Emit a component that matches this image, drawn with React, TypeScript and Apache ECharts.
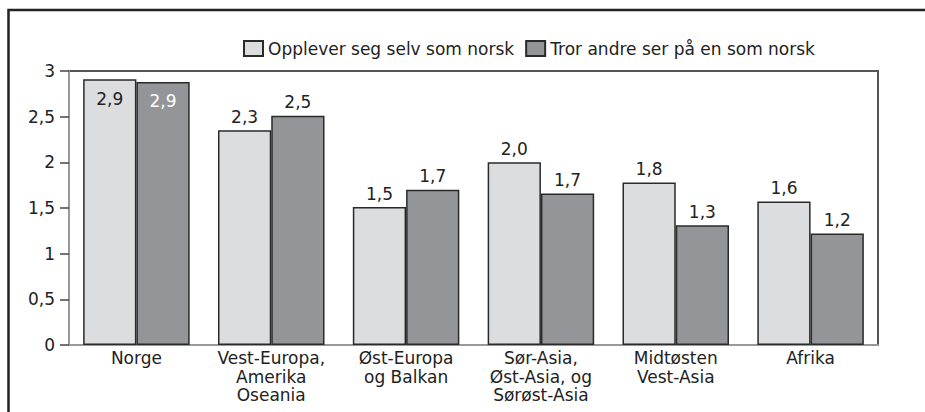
import React, { useEffect, useRef } from "react";
import * as echarts from "echarts";

const categories = [
  "Norge",
  "Vest-Europa,\nAmerika\nOseania",
  "Øst-Europa\nog Balkan",
  "Sør-Asia,\nØst-Asia, og\nSørøst-Asia",
  "Midtøsten\nVest-Asia",
  "Afrika",
];
const seriesNames = ["Opplever seg selv som norsk", "Tror andre ser på en som norsk"];
const selfValues = [2.91, 2.35, 1.51, 2.0, 1.78, 1.57];
const selfLabels = ["2,9", "2,3", "1,5", "2,0", "1,8", "1,6"];
const othersValues = [2.88, 2.51, 1.7, 1.66, 1.31, 1.22];
const othersLabels = ["2,9", "2,5", "1,7", "1,7", "1,3", "1,2"];
const yTicks = [0, 0.5, 1, 1.5, 2, 2.5, 3];

const FONT = "'DejaVu Sans', 'Noto Sans', sans-serif";

export default function App() {
  const ref = useRef<HTMLDivElement>(null);
  useEffect(() => {
    if (!ref.current) return;
    const chart = echarts.init(ref.current, null, { renderer: "svg" });
    const mk = (vals: number[], labels: string[], dark: boolean) =>
      vals.map((v, i) => ({
        value: v,
        label:
          i === 0
            ? {
                show: true,
                position: "insideTop",
                distance: 11,
                color: dark ? "#ffffff" : "#222222",
                formatter: () => labels[i],
              }
            : {
                show: true,
                position: "top",
                distance: 5,
                color: "#222222",
                formatter: () => labels[i],
              },
      }));
    chart.setOption({
      animation: false,
      textStyle: { fontFamily: FONT },
      legend: {
        left: 238,
        top: 35,
        icon: "rect",
        itemWidth: 19,
        itemHeight: 15,
        itemGap: 11,
        textStyle: { fontSize: 17, color: "#222", fontFamily: FONT },
        data: seriesNames,
      },
      grid: {
        left: 69,
        top: 71,
        right: 47,
        bottom: 67,
        show: true,
        borderColor: "#555",
        borderWidth: 2,
      },
      xAxis: {
        type: "category",
        data: categories,
        axisLine: { show: true, lineStyle: { color: "#999", width: 2 } },
        axisTick: { show: false },
        axisLabel: {
          interval: 0,
          fontSize: 17,
          color: "#222",
          lineHeight: 18.5,
          margin: 4,
          fontFamily: FONT,
        },
      },
      yAxis: {
        type: "value",
        min: 0,
        max: 3,
        interval: 0.5,
        splitLine: { show: false },
        axisLine: { show: true, lineStyle: { color: "#999", width: 2 } },
        axisTick: { show: true, inside: false, length: 9, lineStyle: { color: "#444", width: 1.5 } },
        axisLabel: {
          fontSize: 17,
          color: "#222",
          margin: 14,
          fontFamily: FONT,
          formatter: (v: number) => (yTicks.includes(v) ? String(v).replace(".", ",") : ""),
        },
      },
      series: [
        {
          name: seriesNames[0],
          type: "bar",
          barGap: "0%",
          barCategoryGap: "21%",
          itemStyle: { color: "#dcdddf", borderColor: "#2a2a2a", borderWidth: 1.5 },
          label: { fontSize: 17, fontFamily: FONT },
          data: mk(selfValues, selfLabels, false),
        },
        {
          name: seriesNames[1],
          type: "bar",
          barGap: "0%",
          barCategoryGap: "21%",
          itemStyle: { color: "#949598", borderColor: "#2a2a2a", borderWidth: 1.5 },
          label: { fontSize: 17, fontFamily: FONT },
          data: mk(othersValues, othersLabels, true),
        },
      ],
      graphic: [
        {
          type: "polyline",
          shape: { points: [[8.5, 412], [8.5, 10], [925, 10]] },
          style: { stroke: "#222", lineWidth: 2.5, fill: "none" },
          silent: true,
        },
      ],
    });
    return () => chart.dispose();
  }, []);
  return (
    <div
      ref={ref}
      style={{ position: "absolute", left: 0, top: 0, width: 925, height: 412, background: "#fff" }}
    />
  );
}
